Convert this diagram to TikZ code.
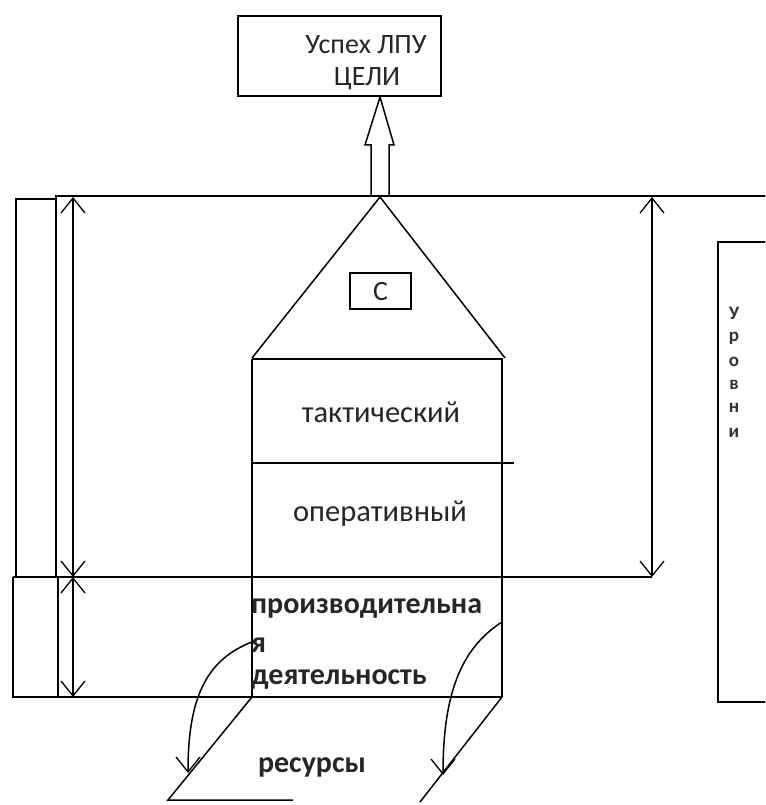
\documentclass[tikz,border=0pt]{standalone}
\usepackage{fontspec}
\setmainfont{Carlito}
\usetikzlibrary{arrows.meta}
\begin{document}
\begin{tikzpicture}[x=1pt,y=-1pt,line join=miter,
  frame/.style={line width=2.2pt,draw=black},
  slim/.style={line width=1.5pt,draw=black},
  barb/.style={-{Straight Barb[length=15pt,width=24pt,line width=1.3pt]}},
  dbarb/.style={{Straight Barb[length=15pt,width=24pt,line width=1.3pt]}-{Straight Barb[length=15pt,width=24pt,line width=1.3pt]}},
  lbl/.style={font=\fontsize{30.5}{34}\selectfont,text=black!85,inner sep=0pt},
  toplbl/.style={font=\fontsize{28}{32}\selectfont,text=black!85,inner sep=0pt},
  blbl/.style={font=\fontsize{30}{34}\selectfont\bfseries,text=black!85,inner sep=0pt},
  letter/.style={font=\fontsize{19}{24}\selectfont\bfseries,text=black!80,inner sep=0pt},
  boxnode/.style={draw=black,line width=2.2pt,inner sep=0pt},
]
\useasboundingbox (0,0) rectangle (765,805);
\clip (0,0) rectangle (765,805);
\fill[white] (0,0) rectangle (765,805);

% goal box
\node[boxnode,minimum width=203pt,minimum height=80pt] (goal) at (339.5,56) {};
\node[toplbl] (goaltxt1) at (366,45) {Успех ЛПУ};
\node[toplbl] (goaltxt2) at (367,79) {ЦЕЛИ};

% hollow up arrow
\draw[slim,fill=white] (371,196) -- (371,145) -- (365,145) -- (380,97) -- (394,145) -- (389,145) -- (389,196);

% main frame lines
\coordinate (ftl) at (56,196);
\coordinate (ftr) at (766,196);
\coordinate (fbl) at (13,577);
\coordinate (fbr) at (652,577);
\draw[frame] (ftr) -- (ftl) -- (56,577);
\draw[frame] (fbl) -- (fbr);
\draw[frame] (58,697) -- (502,697);

% left boxes
\draw[frame] (56,199) -- (16,199) -- (16,577);
\draw[frame] (13,577) -- (13,697) -- (58,697) -- (58,577);

% left double arrows
\coordinate (la1) at (73,197);
\coordinate (la2) at (73,577);
\coordinate (la3) at (73,697);
\draw[slim,dbarb] (la1) -- (la2);
\draw[slim,dbarb] (la2) -- (la3);

% right double arrow
\coordinate (ra1) at (652,197);
\coordinate (ra2) at (652,577);
\draw[slim,dbarb] (ra1) -- (ra2);

% house
\coordinate (apex) at (380,197);
\coordinate (hl) at (252,358);
\coordinate (hr) at (505,358);
\draw[slim] (hl) -- (apex) -- (hr);
\draw[frame] (252,359) -- (503,359);
\draw[frame] (252,359) -- (252,697);
\draw[frame] (502,359) -- (502,697);
\draw[frame] (252,463) -- (514,463);

\node[boxnode,minimum width=61pt,minimum height=36pt,line width=1.8pt] (cbox) at (380.5,291) {};
\node[toplbl] (ctxt) at (380.5,292) {С};

\node[lbl] (takt) at (381,412) {тактический};
\node[lbl] (oper) at (380,514) {оперативный};

\node[blbl,anchor=west] (prod1) at (251,608) {производительна};
\node[blbl,anchor=west] (prod2) at (251,645) {я};
\node[blbl,anchor=west] (prod3) at (251,680) {деятельность};

% resources parallelogram
\coordinate (pl1) at (252,697);
\coordinate (pl2) at (168,800);
\coordinate (pl3) at (293,800);
\coordinate (pr1) at (502,697);
\coordinate (pr2) at (420,802);
\draw[slim] (pl1) -- (pl2) -- (pl3);
\draw[slim] (pr1) -- (pr2);
\node[blbl] (res) at (312,767) {ресурсы};

% curved arrows
\coordinate (cl1) at (252,642);
\coordinate (cl2) at (188,773);
\coordinate (cr1) at (502,622);
\coordinate (cr2) at (443,775);
\draw[slim,barb] (cl1) .. controls (205,660) and (188,700) .. (cl2);
\draw[slim,barb] (cr1) .. controls (458,650) and (443,700) .. (cr2);

% levels box
\draw[frame] (800,242) -- (718,242) -- (718,702) -- (800,702);
\node[letter] (u1) at (734,313) {У};
\node[letter] (u2) at (734,338) {р};
\node[letter] (u3) at (734,362) {о};
\node[letter] (u4) at (734,385) {в};
\node[letter] (u5) at (734,408) {н};
\node[letter] (u6) at (734,433) {и};
\end{tikzpicture}
\end{document}
